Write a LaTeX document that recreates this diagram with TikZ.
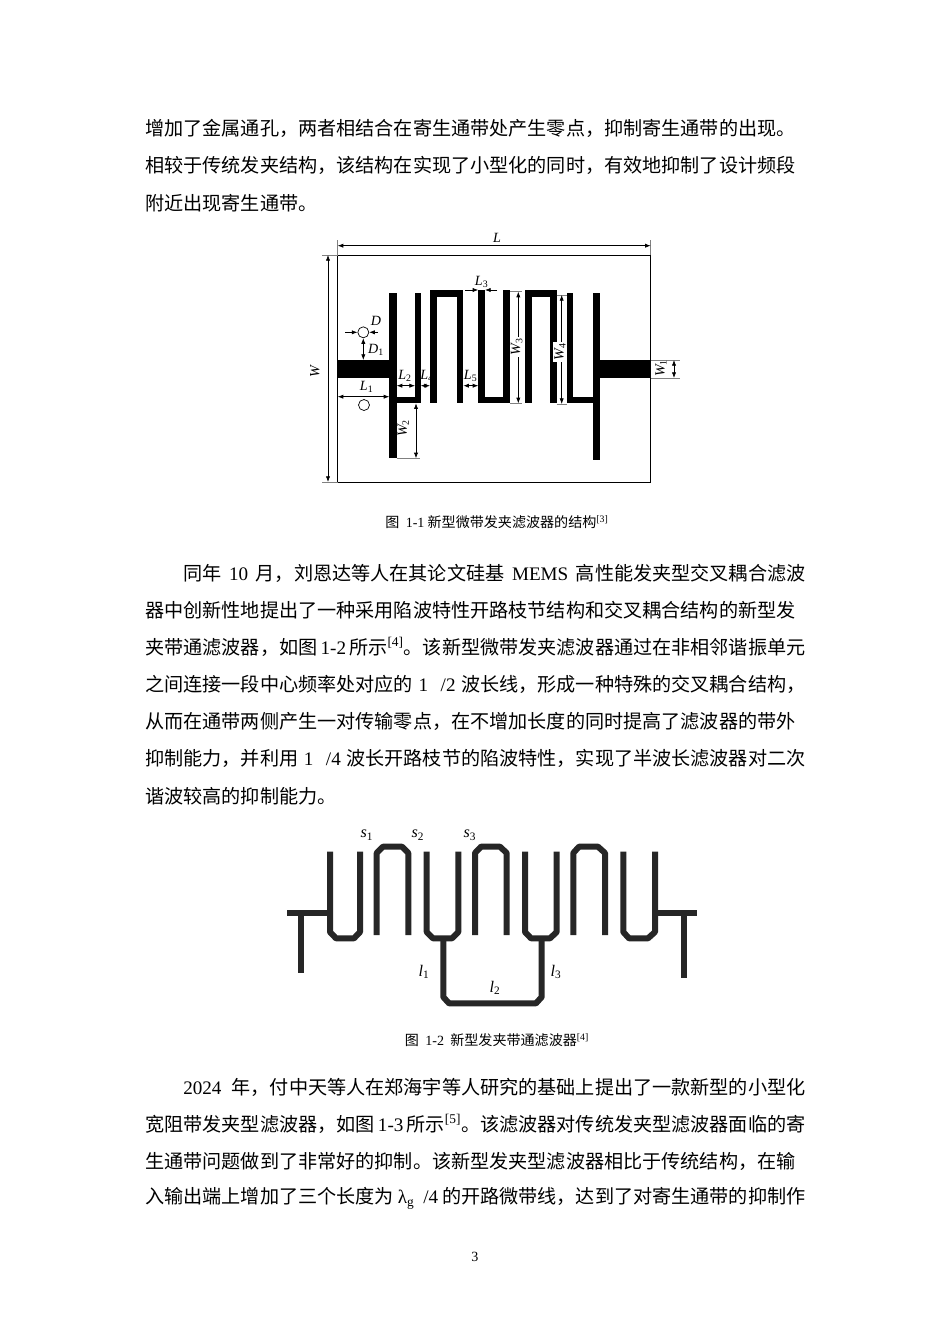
\documentclass[tikz,border=0pt]{standalone}
\usepackage{fontspec}
\setmainfont{Liberation Serif}
\newfontfamily\cj{Noto Sans CJK SC}
\usetikzlibrary{arrows.meta}
\XeTeXlinebreaklocale "zh"
\XeTeXlinebreakskip=0pt plus 4pt
\newcommand{\en}[1]{{\rmfamily #1}}
\newcommand{\jline}[1]{\makebox[16.5cm][s]{#1}}
\newcommand{\iline}[1]{\makebox[15.55cm][s]{#1}}
\newcommand{\usub}[1]{\textsubscript{\upshape #1}}
\tikzset{
 body/.style={anchor=west,inner sep=0pt,font=\fontsize{13.6}{16}\selectfont\cj},
 capt/.style={inner sep=0pt,font=\fontsize{10}{12}\selectfont\cj},
 lab/.style={inner sep=0pt,font=\fontsize{10}{12}\selectfont\itshape},
 labb/.style={inner sep=0pt,font=\fontsize{11.5}{13}\selectfont\itshape},
 dim/.style={line width=0.5pt,{Latex[length=4pt,width=3pt]}-{Latex[length=4pt,width=3pt]}},
 oneway/.style={line width=0.5pt,-{Latex[length=4pt,width=3pt]}},
 tick/.style={line width=0.4pt,gray},
 strip/.style={fill=black,draw=none},
 mline/.style={line width=4.27pt,draw=black!85,line join=bevel,line cap=butt},
 via/.style={draw,circle,minimum size=7.8pt,inner sep=0pt,line width=0.5pt},
}
\begin{document}
\begin{tikzpicture}[x=0.025cm,y=-0.025cm]
\useasboundingbox[fill=white] (0,0) rectangle (950,1344);
% paragraph 1
\node[body] (p1a) at (145,128) {\jline{增加了金属通孔，两者相结合在寄生通带处产生零点，抑制寄生通带的出现。}};
\node[body] (p1b) at (145,165) {\jline{相较于传统发夹结构，该结构在实现了小型化的同时，有效地抑制了设计频段}};
\node[body] (p1c) at (145,203) {附近出现寄生通带。};
% figure 1
\draw[line width=0.5pt] (337.7,255) rectangle (650.7,482);
\draw[tick] (337.7,240) -- (337.7,255) (650.7,240) -- (650.7,255);
\draw[tick] (322,255) -- (337.7,255) (322,482) -- (337.7,482);
\draw[dim] (337.7,245.7) -- (650.7,245.7);
\node[lab] (Lt) at (497,238) {L};
\draw[dim] (328,255) -- (328,482);
\node[lab,rotate=90] (Wt) at (315,372) {W};
\fill[strip] (337.7,360) rectangle (390,378);
\fill[strip] (600,360) rectangle (650.7,378);
\fill[strip] (389.3,293) rectangle (396.7,458);
\fill[strip] (396.7,396.7) rectangle (420.7,402.7);
\fill[strip] (415,293) rectangle (420.7,402.7);
\fill[strip] (430,290) rectangle (436.7,402.7);
\fill[strip] (430,290) rectangle (463.3,296.7);
\fill[strip] (456.7,290) rectangle (463.3,402.7);
\fill[strip] (478.3,290) rectangle (485,403.3);
\fill[strip] (478.3,396.7) rectangle (510,403.3);
\fill[strip] (503.3,290) rectangle (510,403.3);
\fill[strip] (525,290) rectangle (531.7,403.3);
\fill[strip] (525,290) rectangle (556.7,296.7);
\fill[strip] (550,290) rectangle (556.7,403.3);
\fill[strip] (566.7,293) rectangle (573.3,402.7);
\fill[strip] (573.3,396.7) rectangle (593.3,402.7);
\fill[strip] (592.7,293) rectangle (600,460);
\node[via] (c1) at (363.3,332.3) {};
\node[via] (c2) at (364,405) {};
\draw[oneway] (345,332.3) -- (c1.west);
\draw[oneway] (378,332.3) -- (c1.east);
\node[lab] (Dl) at (376,321) {D};
\draw[dim] (c1.south) -- (363.3,360);
\node[lab] (D1l) at (376,350) {D\usub{1}};
\draw[dim] (337.7,396.7) -- (389.3,396.7);
\node[lab] (L1l) at (366.7,386.7) {L\usub{1}};
\draw[dim] (396.7,385.7) -- (415,385.7);
\node[lab] (L2l) at (405,376) {L\usub{2}};
\draw[dim] (420.7,385.7) -- (430,385.7);
\node[lab] (L4l) at (427,376) {L\usub{4}};
\draw[dim] (463.3,385.7) -- (478.3,385.7);
\node[lab] (L5l) at (470.7,376) {L\usub{5}};
\draw[oneway] (465,290) -- (478.3,290);
\draw[oneway] (497,290) -- (485,290);
\node[lab] (L3l) at (481.7,282) {L\usub{3}};
\draw[tick] (510,291.7) -- (522,291.7) (510,403.3) -- (522,403.3);
\draw[dim] (518.3,291.7) -- (518.3,403.3);
\node[lab,rotate=90,fill=white,inner sep=1pt] (W3l) at (516.7,347) {W\usub{3}};
\draw[tick] (556.7,295) -- (566.7,295) (556.7,404) -- (566.7,404);
\draw[dim] (561.7,295) -- (561.7,404);
\node[lab,rotate=90,fill=white,inner sep=1pt] (W4l) at (560,352) {W\usub{4}};
\draw[tick] (650.7,360) -- (680,360) (650.7,378) -- (680,378);
\draw[dim] (674,360) -- (674,378);
\node[lab,rotate=90] (W1l) at (661,368.3) {W\usub{1}};
\draw[tick] (396.7,458.3) -- (420,458.3);
\draw[dim] (416,403.3) -- (416,458.3);
\node[lab,rotate=90] (W2l) at (403.3,428.3) {W\usub{2}};
\node[capt] (cap1) at (497,522) {图\ \ \en{1-1} 新型微带发夹滤波器的结构\textsuperscript{\en{[3]}}};
% paragraph 2
\node[body] (p2a) at (183,573) {\iline{同年 \en{10} 月，刘恩达等人在其论文硅基 \en{MEMS} 高性能发夹型交叉耦合滤波}};
\node[body] (p2b) at (145,610) {\jline{器中创新性地提出了一种采用陷波特性开路枝节结构和交叉耦合结构的新型发}};
\node[body] (p2c) at (145,647) {\jline{夹带通滤波器，如图 \en{1-2} 所示\textsuperscript{\en{[4]}}。该新型微带发夹滤波器通过在非相邻谐振单元}};
\node[body] (p2d) at (145,684) {\jline{之间连接一段中心频率处对应的 \en{1\ \ /2} 波长线，形成一种特殊的交叉耦合结构，}};
\node[body] (p2e) at (145,721) {\jline{从而在通带两侧产生一对传输零点，在不增加长度的同时提高了滤波器的带外}};
\node[body] (p2f) at (145,758) {\jline{抑制能力，并利用 \en{1\ \ /4} 波长开路枝节的陷波特性，实现了半波长滤波器对二次}};
\node[body] (p2g) at (145,796) {谐波较高的抑制能力。};
% figure 2
\draw[mline] (287.3,912.7) -- (330,912.7);
\draw[mline] (300.7,912.7) -- (300.7,972.7);
\draw[mline] (330,851.7) -- (330,932) -- (336,938.3) -- (354,938.3) -- (360,932) -- (360,851.7);
\draw[mline] (376.7,935) -- (376.7,853) -- (383,846.7) -- (402,846.7) -- (408.3,853) -- (408.3,935);
\draw[mline] (426.7,851.7) -- (426.7,932) -- (433,938.3) -- (452,938.3) -- (458.3,932) -- (458.3,851.7);
\draw[mline] (443.3,938.3) -- (443.3,997) -- (449,1003.3) -- (536,1003.3) -- (541.7,997) -- (541.7,938.3);
\draw[mline] (475,935) -- (475,853) -- (481,846.7) -- (500,846.7) -- (506.7,853) -- (506.7,935);
\draw[mline] (525,851.7) -- (525,932) -- (531,938.3) -- (550,938.3) -- (556.7,932) -- (556.7,851.7);
\draw[mline] (573.3,935) -- (573.3,853) -- (579,846.7) -- (598,846.7) -- (605,853) -- (605,935);
\draw[mline] (623.3,851.7) -- (623.3,932) -- (629,938.3) -- (648,938.3) -- (655,932) -- (655,851.7);
\draw[mline] (655,912.7) -- (696.7,912.7);
\draw[mline] (684,912.7) -- (684,978.3);
\node[labb] (s1) at (367,835) {s\usub{1}};
\node[labb] (s2) at (418,835) {s\usub{2}};
\node[labb] (s3) at (470,835) {s\usub{3}};
\node[labb] (l1) at (424,972) {l\usub{1}};
\node[labb] (l3) at (556,972) {l\usub{3}};
\node[labb] (l2) at (495,988) {l\usub{2}};
\node[capt] (cap2) at (497,1040) {图\ \ \en{1-2}\ \ 新型发夹带通滤波器\textsuperscript{\en{[4]}}};
% paragraph 3
\node[body] (p3a) at (183,1087) {\iline{\en{2024} 年，付中天等人在郑海宇等人研究的基础上提出了一款新型的小型化}};
\node[body] (p3b) at (145,1124) {\jline{宽阻带发夹型滤波器，如图 \en{1-3} 所示\textsuperscript{\en{[5]}}。该滤波器对传统发夹型滤波器面临的寄}};
\node[body] (p3c) at (145,1161) {\jline{生通带问题做到了非常好的抑制。该新型发夹型滤波器相比于传统结构，在输}};
\node[body] (p3d) at (145,1198) {\jline{入输出端上增加了三个长度为 \en{λ\textsubscript{g}\ \ /4} 的开路微带线，达到了对寄生通带的抑制作}};
\node[inner sep=0pt,font=\fontsize{10}{12}\selectfont] (pg) at (475,1257) {3};
\end{tikzpicture}
\end{document}
